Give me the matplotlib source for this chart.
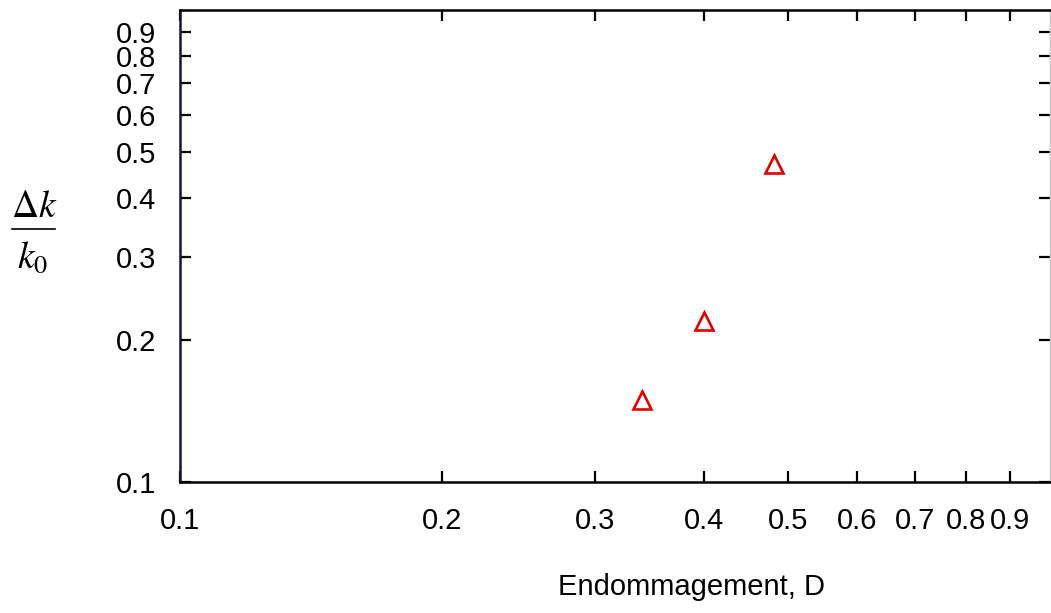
import matplotlib
matplotlib.use('Agg')
import matplotlib.pyplot as plt
from matplotlib.lines import Line2D
from matplotlib.ticker import FixedLocator, FixedFormatter, NullLocator

# data
damage = [0.34, 0.40, 0.482]
dk_k0 = [0.149, 0.219, 0.472]

tick_vals = [0.1, 0.2, 0.3, 0.4, 0.5, 0.6, 0.7, 0.8, 0.9]
tick_labels = ['0.1', '0.2', '0.3', '0.4', '0.5', '0.6', '0.7', '0.8', '0.9']

plt.rcParams['font.family'] = ['Liberation Sans', 'DejaVu Sans']
plt.rcParams['mathtext.fontset'] = 'stix'

fig = plt.figure(figsize=(10.51, 6.13), dpi=100)
ax = fig.add_axes([180/1051, 1 - 482/613, 870/1051, 472/613])

ax.plot(damage, dk_k0, linestyle='none', marker='^', markersize=13,
        markerfacecolor='none', markeredgecolor='#e00000', markeredgewidth=1.9)

ax.set_xscale('log')
ax.set_yscale('log')
ax.set_xlim(0.1, 1.0)
ax.set_ylim(0.1, 1.0)

for axis in (ax.xaxis, ax.yaxis):
    axis.set_major_locator(FixedLocator(tick_vals))
    axis.set_major_formatter(FixedFormatter(tick_labels))
    axis.set_minor_locator(NullLocator())

ax.tick_params(direction='in', length=8, width=1.6, labelsize=21,
               top=True, right=True)
ax.tick_params(axis='y', pad=17)
ax.tick_params(axis='x', pad=18)

for side in ('left', 'bottom', 'top'):
    ax.spines[side].set_linewidth(1.8)
    ax.spines[side].set_color('black')
ax.spines['left'].set_color('#141438')
ax.spines['right'].set_linewidth(1)
ax.spines['right'].set_color('#c8c8c8')

fig.text(692/1051, 1 - 587/613, 'Endommagement, D', fontsize=21,
         ha='center', va='center')

# y label drawn as a stacked fraction
fig.text(34/1051, 1 - 207/613, r'$\Delta k$', fontsize=27,
         ha='center', va='center')
fig.text(33/1051, 1 - 258/613, r'$k_{0}$', fontsize=27,
         ha='center', va='center')
fig.add_artist(Line2D([12/1051, 55/1051], [1 - 229/613, 1 - 229/613],
                      color='black', linewidth=1.2, transform=fig.transFigure))

fig.savefig('out.png', dpi=100)
